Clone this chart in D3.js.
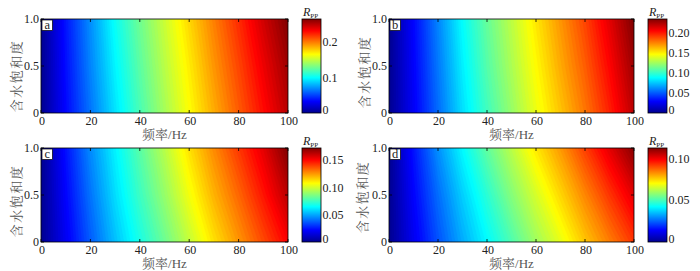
<!DOCTYPE html>
<html>
<head>
<meta charset="utf-8">
<script src="https://cdn.jsdelivr.net/npm/d3@7"></script>
<style>
  body { margin: 0; background: #fff; }
</style>
</head>
<body>
<svg id="chart" width="700" height="271"></svg>
<script>
// grid: frequency (Hz) x water saturation
const freqs = [0, 10, 20, 30, 40, 50, 60, 70, 80, 90, 100];
const saturations = [0, 0.5, 1.0];

// Rpp, one row per saturation (0, 0.5, 1.0)
const rppA = [
  [0, 0.034, 0.063, 0.092, 0.118, 0.142, 0.165, 0.187, 0.208, 0.229, 0.250],
  [0, 0.036, 0.067, 0.097, 0.123, 0.147, 0.170, 0.193, 0.214, 0.236, 0.257],
  [0, 0.038, 0.070, 0.102, 0.128, 0.152, 0.176, 0.199, 0.221, 0.244, 0.265]
];
const rppB = [
  [0, 0.027, 0.054, 0.081, 0.103, 0.123, 0.143, 0.161, 0.179, 0.199, 0.222],
  [0, 0.0285, 0.057, 0.085, 0.108, 0.128, 0.148, 0.167, 0.185, 0.206, 0.229],
  [0, 0.030, 0.060, 0.089, 0.112, 0.132, 0.153, 0.172, 0.191, 0.213, 0.236]
];
const rppC = [
  [0, 0.019, 0.037, 0.054, 0.069, 0.083, 0.098, 0.113, 0.126, 0.139, 0.152],
  [0, 0.0215, 0.041, 0.059, 0.075, 0.090, 0.106, 0.121, 0.134, 0.148, 0.163],
  [0, 0.024, 0.045, 0.063, 0.080, 0.096, 0.113, 0.128, 0.142, 0.156, 0.173]
];
const rppD = [
  [0, 0.012, 0.023, 0.033, 0.042, 0.051, 0.060, 0.068, 0.077, 0.085, 0.093],
  [0, 0.014, 0.026, 0.037, 0.047, 0.057, 0.066, 0.075, 0.084, 0.093, 0.102],
  [0, 0.016, 0.030, 0.042, 0.053, 0.063, 0.073, 0.082, 0.092, 0.102, 0.112]
];

const xTicks = [0, 20, 40, 60, 80, 100];
const yTicks = [0, 0.5, 1.0];
const yTickLabels = ["0", "0.5", "1.0"];
const cbTicksA = [0, 0.1, 0.2], cbLabelsA = ["0", "0.1", "0.2"];
const cbTicksB = [0, 0.05, 0.10, 0.15, 0.20], cbLabelsB = ["0", "0.05", "0.10", "0.15", "0.20"];
const cbTicksC = [0, 0.05, 0.10, 0.15], cbLabelsC = ["0", "0.05", "0.10", "0.15"];
const cbTicksD = [0, 0.05, 0.10], cbLabelsD = ["0", "0.05", "0.10"];
const cbDomainA = [0, 0.265], cbDomainB = [0, 0.236], cbDomainC = [0, 0.173], cbDomainD = [0, 0.113];

const panels = [
  {id: "a", data: rppA, dom: cbDomainA, ticks: cbTicksA, labels: cbLabelsA, x0: 41, x1: 288, y0: 19, y1: 113, cbx: 302, ylab: [17, 76]},
  {id: "b", data: rppB, dom: cbDomainB, ticks: cbTicksB, labels: cbLabelsB, x0: 389, x1: 634, y0: 19, y1: 113, cbx: 648, ylab: [365, 72]},
  {id: "c", data: rppC, dom: cbDomainC, ticks: cbTicksC, labels: cbLabelsC, x0: 41, x1: 288, y0: 148, y1: 242, cbx: 302, ylab: [17, 201]},
  {id: "d", data: rppD, dom: cbDomainD, ticks: cbTicksD, labels: cbLabelsD, x0: 389, x1: 634, y0: 148, y1: 242, cbx: 648, ylab: [363, 197]}
];

const SERIF = "'Liberation Serif', 'Times New Roman', 'DejaVu Serif', serif";
const CJK = "'Liberation Serif', 'Noto Serif CJK SC', 'Noto Sans CJK SC', serif";

// matlab jet
const jetStops = [0, 0.125, 0.375, 0.625, 0.875, 1];
const jetColors = ["#00008f", "#0000ff", "#00ffff", "#ffff00", "#ff0000", "#800000"];
const jet = d3.scaleLinear().domain(jetStops).range(jetColors).clamp(true);

const svg = d3.select("#chart");
const defs = svg.append("defs");

const grad = defs.append("linearGradient").attr("id", "jetgrad")
  .attr("x1", 0).attr("y1", 1).attr("x2", 0).attr("y2", 0);
jetStops.forEach((s, i) => grad.append("stop").attr("offset", s).attr("stop-color", jetColors[i]));

panels.forEach(p => {
  const xScale = d3.scaleLinear().domain([0, 100]).range([p.x0, p.x1]);
  const yScale = d3.scaleLinear().domain([0, 1]).range([p.y1, p.y0]);
  const nx = freqs.length, ny = saturations.length;
  // grid coordinates (sample i at i+0.5) -> pixels
  const gx = d3.scaleLinear().domain([0.5, nx - 0.5]).range([xScale(freqs[0]), xScale(freqs[nx - 1])]);
  const gy = d3.scaleLinear().domain([0.5, ny - 0.5]).range([yScale(saturations[0]), yScale(saturations[ny - 1])]);
  const color = d3.scaleLinear().domain(p.dom).range([0, 1]);

  const clipId = "clip" + p.id;
  defs.append("clipPath").attr("id", clipId)
    .append("rect").attr("x", p.x0).attr("y", p.y0)
    .attr("width", p.x1 - p.x0).attr("height", p.y1 - p.y0);

  const g = svg.append("g");
  const field = g.append("g").attr("clip-path", `url(#${clipId})`);
  field.append("rect").attr("x", p.x0).attr("y", p.y0)
    .attr("width", p.x1 - p.x0).attr("height", p.y1 - p.y0)
    .attr("fill", jet(0));

  const nLevels = 90;
  const step = (p.dom[1] - p.dom[0]) / nLevels;
  const thresholds = d3.range(nLevels).map(i => p.dom[0] + step * i);
  const contours = d3.contours().size([nx, ny]).thresholds(thresholds)(p.data.flat());
  const path = d3.geoPath(d3.geoTransform({
    point(x, y) { this.stream.point(gx(x), gy(y)); }
  }));
  field.selectAll("path").data(contours).join("path")
    .attr("d", path)
    .attr("fill", d => jet(color(d.value + step / 2)))
    .attr("stroke", d => jet(color(d.value + step / 2)))
    .attr("stroke-width", 0.3);

  // frame + inside ticks
  g.append("rect").attr("x", p.x0).attr("y", p.y0)
    .attr("width", p.x1 - p.x0).attr("height", p.y1 - p.y0)
    .attr("fill", "none").attr("stroke", "#000").attr("stroke-width", 0.8);
  const tk = g.append("g").attr("stroke", "#000").attr("stroke-width", 0.8);
  xTicks.forEach(t => {
    tk.append("line").attr("x1", xScale(t)).attr("x2", xScale(t)).attr("y1", p.y1).attr("y2", p.y1 - 3);
    tk.append("line").attr("x1", xScale(t)).attr("x2", xScale(t)).attr("y1", p.y0).attr("y2", p.y0 + 3);
  });
  yTicks.forEach(t => {
    tk.append("line").attr("x1", p.x0).attr("x2", p.x0 + 3).attr("y1", yScale(t)).attr("y2", yScale(t));
    tk.append("line").attr("x1", p.x1).attr("x2", p.x1 - 3).attr("y1", yScale(t)).attr("y2", yScale(t));
  });

  g.selectAll(".xt").data(xTicks).join("text")
    .attr("x", d => xScale(d) + 1).attr("y", p.y1 + 12)
    .attr("font-family", SERIF).attr("fill", "#222")
    .attr("text-anchor", "middle").attr("font-size", 12).text(d => d);
  g.selectAll(".yt").data(yTicks).join("text")
    .attr("x", p.x0 - 2).attr("y", d => yScale(d) + 4)
    .attr("font-family", SERIF).attr("fill", "#222")
    .attr("text-anchor", "end").attr("font-size", 12).text((d, i) => yTickLabels[i]);

  g.append("text").attr("font-family", CJK).attr("fill", "#555")
    .attr("x", (p.x0 + p.x1) / 2).attr("y", p.y1 + 26)
    .attr("text-anchor", "middle").attr("font-size", 13).text("频率/Hz");
  g.append("text").attr("font-family", CJK).attr("fill", "#555")
    .attr("transform", `translate(${p.ylab[0] + 4},${p.ylab[1]}) rotate(-90)`)
    .attr("text-anchor", "middle").attr("font-size", 13).attr("letter-spacing", 1.5)
    .text("含水饱和度");

  // panel letter
  g.append("rect").attr("x", p.x0 + 1).attr("y", p.y0 + 1).attr("width", 10.5).attr("height", 10.5)
    .attr("fill", "#fff").attr("stroke", "#000").attr("stroke-width", 0.7);
  g.append("text").attr("x", p.x0 + 6.2).attr("y", p.y0 + 9.8)
    .attr("font-family", SERIF).attr("fill", "#222")
    .attr("text-anchor", "middle").attr("font-size", 12.5).text(p.id);

  // colorbar
  const cbw = 19;
  const cbScale = d3.scaleLinear().domain(p.dom).range([p.y1, p.y0]);
  g.append("rect").attr("x", p.cbx).attr("y", p.y0).attr("width", cbw).attr("height", p.y1 - p.y0)
    .attr("fill", "url(#jetgrad)").attr("stroke", "#000").attr("stroke-width", 0.8);
  p.ticks.forEach((t, i) => {
    const yy = cbScale(t);
    if (i > 0) {
      tk.append("line").attr("x1", p.cbx + cbw).attr("x2", p.cbx + cbw - 2.5).attr("y1", yy).attr("y2", yy);
      tk.append("line").attr("x1", p.cbx).attr("x2", p.cbx + 2.5).attr("y1", yy).attr("y2", yy);
    }
    g.append("text").attr("x", p.cbx + cbw + 1.5).attr("y", Math.min(yy, p.y1 - 3) + 4)
      .attr("font-family", SERIF).attr("fill", "#222")
      .attr("font-size", 12).text(p.labels[i]);
  });
  const title = g.append("text").attr("x", p.cbx + 1).attr("y", p.y0 - 3.5)
    .attr("font-family", SERIF).attr("fill", "#222");
  title.append("tspan").attr("font-style", "italic").attr("font-size", 12).text("R");
  title.append("tspan").attr("font-size", 7).attr("dy", 2).text("PP");
});
</script>
</body>
</html>
